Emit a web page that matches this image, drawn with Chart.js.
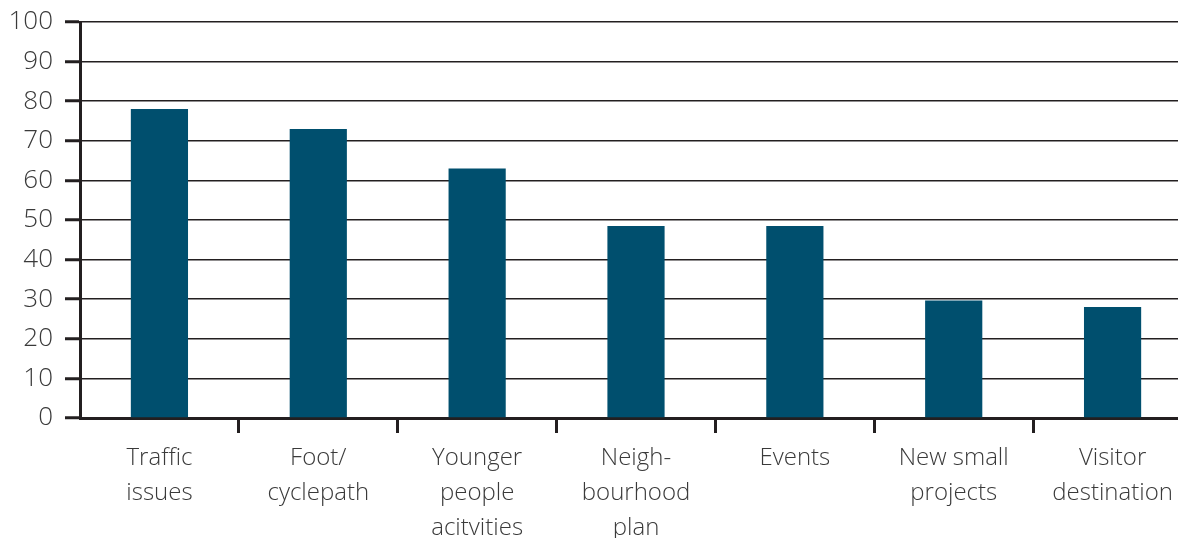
<!DOCTYPE html>
<html>
<head>
<meta charset="utf-8">
<script src="https://cdn.jsdelivr.net/npm/chart.js@4/dist/chart.umd.min.js"></script>
<style>
  html, body { margin: 0; padding: 0; background: #fff; overflow: hidden; }
  #wrap { width: 1192px; height: 538px; position: relative; }
</style>
</head>
<body>
<div id="wrap"><canvas id="c"></canvas></div>
<script>
const categories = [
  ["Traffic", "issues"],
  ["Foot/", "cyclepath"],
  ["Younger", "people", "acitvities"],
  ["Neigh-", "bourhood", "plan"],
  ["Events"],
  ["New small", "projects"],
  ["Visitor", "destination"]
];
const values = [78, 73, 63, 48.5, 48.5, 29.7, 28];
const yTicks = [0, 10, 20, 30, 40, 50, 60, 70, 80, 90, 100];

const ink = '#231f20';
const textColor = '#3a3a3a';

new Chart(document.getElementById('c'), {
  type: 'bar',
  data: {
    labels: categories,
    datasets: [{
      data: values,
      backgroundColor: '#004f6e',
      borderWidth: 0,
      barPercentage: 0.36,
      categoryPercentage: 1
    }]
  },
  options: {
    responsive: true,
    maintainAspectRatio: false,
    animation: false,
    layout: { padding: { top: 22, right: 0, left: 0, bottom: 0 } },
    plugins: { legend: { display: false }, tooltip: { enabled: false } },
    scales: {
      x: {
        offset: true,
        border: { display: true, color: ink, width: 3 },
        grid: {
          offset: true,
          drawOnChartArea: false,
          drawTicks: true,
          tickLength: 15,
          tickWidth: 3,
          tickColor: (ctx) => (ctx.type === 'tick' && ctx.index > 0) ? ink : 'rgba(0,0,0,0)'
        },
        ticks: {
          color: textColor,
          font: { family: 'Open Sans', size: 24, weight: 300, lineHeight: 1.45 },
          padding: 8,
          maxRotation: 0,
          autoSkip: false
        },
        afterFit: (scale) => { scale.height = 120; }
      },
      y: {
        min: 0,
        max: 100,
        afterBuildTicks: (scale) => { scale.ticks = yTicks.map(v => ({ value: v })); },
        border: { display: true, color: ink, width: 3 },
        grid: {
          color: ink,
          lineWidth: 1.5,
          tickLength: 15,
          tickWidth: 3,
          tickColor: ink
        },
        ticks: {
          color: textColor,
          font: { family: 'Open Sans', size: 26, weight: 300 },
          padding: 12
        },
        afterFit: (scale) => { scale.width = 80; scale.paddingTop = 0; scale.paddingBottom = 0; }
      }
    }
  }
});
</script>
</body>
</html>
